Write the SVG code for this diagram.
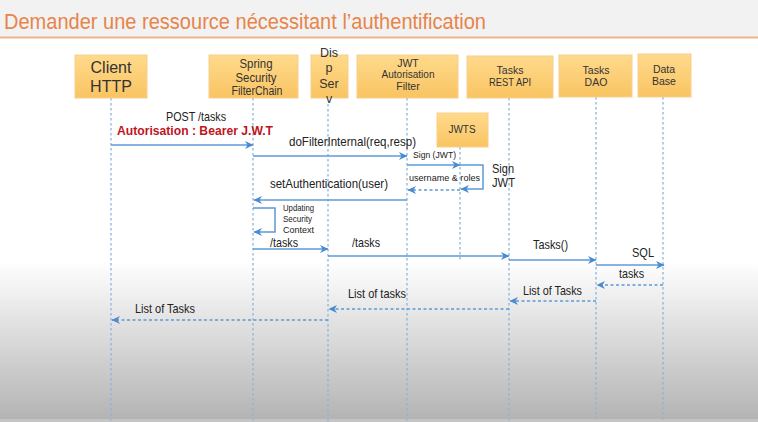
<svg xmlns="http://www.w3.org/2000/svg" width="758" height="422" viewBox="0 0 758 422">
<defs>
  <linearGradient id="bg" x1="0" y1="0" x2="0" y2="1">
    <stop offset="0" stop-color="#ffffff"/>
    <stop offset="0.62" stop-color="#ffffff"/>
    <stop offset="1" stop-color="#b2b2b2"/>
  </linearGradient>
  <linearGradient id="box" x1="0" y1="0" x2="0" y2="1">
    <stop offset="0" stop-color="#FFDA8C"/>
    <stop offset="1" stop-color="#F9C462"/>
  </linearGradient>
  <marker id="ah" markerUnits="userSpaceOnUse" markerWidth="10" markerHeight="10" refX="9" refY="5" orient="auto">
    <path d="M1,1 L9.5,5 L1,9 L3.5,5 z" fill="#4A8BD0"/>
  </marker>
</defs>
<style>
  .ttl{font-family:"Liberation Sans",Arial,sans-serif;font-size:22px;fill:#E8844A}
  .bx{fill:url(#box);stroke:#F6D08C;stroke-width:1}
  .nt{font-family:"Liberation Sans",Arial,sans-serif;fill:#333;text-anchor:middle}
  .life{stroke:#8DB3DC;stroke-width:1.3;stroke-dasharray:2.5 2.5;fill:none}
  .msg{stroke:#5B9BD5;stroke-width:1.5;fill:none;marker-end:url(#ah)}
  .ret{stroke:#5B9BD5;stroke-width:1.5;fill:none;stroke-dasharray:3 2.5;marker-end:url(#ah)}
  .lb{font-family:"Liberation Sans",Arial,sans-serif;font-size:13px;fill:#222}
  .sm{font-family:"Liberation Sans",Arial,sans-serif;font-size:9.5px;fill:#222}
  .red{font-family:"Liberation Sans",Arial,sans-serif;font-size:13px;font-weight:bold;fill:#C0141C}
</style>
<rect x="0" y="0" width="758" height="422" fill="url(#bg)"/>
<rect x="0" y="0" width="758" height="37" fill="#F2F2F2"/>
<rect x="0" y="419" width="758" height="3" fill="#C4C4C4"/>
<line x1="0" y1="37.5" x2="758" y2="37.5" stroke="#F2B48C" stroke-width="2"/>
<text class="ttl" x="4" y="29" textLength="482" lengthAdjust="spacingAndGlyphs">Demander une ressource nécessitant l’authentification</text>

<g id="lifelines">
  <line class="life" x1="111" y1="98" x2="111" y2="422"/>
  <line class="life" x1="253" y1="98" x2="253" y2="422"/>
  <line class="life" x1="328" y1="104" x2="328" y2="422"/>
  <line class="life" x1="407" y1="98" x2="407" y2="422"/>
  <line class="life" x1="509" y1="98" x2="509" y2="422"/>
  <line class="life" x1="596" y1="97" x2="596" y2="422"/>
  <line class="life" x1="663" y1="97" x2="663" y2="422"/>
  <line class="life" x1="460" y1="147" x2="460" y2="261"/>
</g>

<g id="client">
  <rect class="bx" x="75" y="55" width="72" height="43"/>
  <text class="nt" x="111" y="73" font-size="16">Client</text>
  <text class="nt" x="111" y="92" font-size="16">HTTP</text>
</g>
<g id="filterchain">
  <rect class="bx" x="209" y="55" width="89" height="43"/>
  <text class="nt" x="256" y="68" font-size="12" textLength="33" lengthAdjust="spacingAndGlyphs">Spring</text>
  <text class="nt" x="256" y="82" font-size="12" textLength="41" lengthAdjust="spacingAndGlyphs">Security</text>
  <text class="nt" x="257" y="95" font-size="12" textLength="51" lengthAdjust="spacingAndGlyphs">FilterChain</text>
</g>
<g id="dispatcher">
  <rect class="bx" x="311" y="55" width="37" height="43"/>
  <text class="nt" x="329" y="57" font-size="12.5">Dis</text>
  <text class="nt" x="329" y="72" font-size="12.5">p</text>
  <text class="nt" x="329" y="88" font-size="12.5">Ser</text>
  <text class="nt" x="329" y="103" font-size="12.5">v</text>
</g>
<g id="jwtfilter">
  <rect class="bx" x="357" y="55" width="101" height="43"/>
  <text class="nt" x="408" y="67" font-size="10.5">JWT</text>
  <text class="nt" x="408" y="78" font-size="10.5" textLength="53" lengthAdjust="spacingAndGlyphs">Autorisation</text>
  <text class="nt" x="408" y="90" font-size="10.5">Filter</text>
</g>
<g id="restapi">
  <rect class="bx" x="467" y="56" width="86" height="42"/>
  <text class="nt" x="510" y="74" font-size="10.5">Tasks</text>
  <text class="nt" x="510" y="86" font-size="10.5" textLength="42" lengthAdjust="spacingAndGlyphs">REST API</text>
</g>
<g id="dao">
  <rect class="bx" x="559" y="55" width="73" height="42"/>
  <text class="nt" x="596" y="74" font-size="10.5">Tasks</text>
  <text class="nt" x="596" y="86" font-size="10.5">DAO</text>
</g>
<g id="database">
  <rect class="bx" x="638" y="54" width="53" height="43"/>
  <text class="nt" x="664" y="73" font-size="10.5">Data</text>
  <text class="nt" x="664" y="85" font-size="10.5">Base</text>
</g>
<g id="jwts">
  <rect class="bx" x="437" y="113" width="51" height="34"/>
  <text class="nt" x="462" y="133" font-size="10">JWTS</text>
</g>

<g id="connectors">
  <line class="msg" x1="111" y1="145" x2="253" y2="145"/>
  <line class="msg" x1="253" y1="156" x2="407" y2="156"/>
  <line class="msg" x1="407" y1="165" x2="460" y2="165"/>
  <polyline class="msg" points="460,165 483,165 483,189 461,189"/>
  <line class="ret" x1="460" y1="190" x2="408" y2="190"/>
  <line class="msg" x1="407" y1="200" x2="254" y2="200"/>
  <polyline class="msg" points="253,208 275,208 275,232 254,232"/>
  <line class="msg" x1="253" y1="249" x2="328" y2="249"/>
  <line class="msg" x1="328" y1="256" x2="509" y2="256"/>
  <line class="msg" x1="509" y1="260" x2="596" y2="260"/>
  <line class="msg" x1="596" y1="265" x2="664" y2="265"/>
  <line class="ret" x1="663" y1="285" x2="597" y2="285"/>
  <line class="ret" x1="596" y1="301" x2="510" y2="301"/>
  <line class="ret" x1="509" y1="309" x2="329" y2="309"/>
  <line class="ret" x1="328" y1="320" x2="112" y2="320"/>
</g>

<g id="labels">
  <text class="lb" x="166" y="121" textLength="60" lengthAdjust="spacingAndGlyphs">POST /tasks</text>
  <text class="red" x="117" y="135" textLength="156" lengthAdjust="spacingAndGlyphs">Autorisation : Bearer J.W.T</text>
  <text class="lb" x="289" y="146" textLength="127" lengthAdjust="spacingAndGlyphs">doFilterInternal(req,resp)</text>
  <text class="sm" x="413" y="158" textLength="43" lengthAdjust="spacingAndGlyphs">Sign (JWT)</text>
  <text class="sm" x="409" y="181" textLength="71" lengthAdjust="spacingAndGlyphs">username &amp; roles</text>
  <text class="lb" x="492" y="173" textLength="22" lengthAdjust="spacingAndGlyphs">Sign</text>
  <text class="lb" x="492" y="187" textLength="23" lengthAdjust="spacingAndGlyphs">JWT</text>
  <text class="lb" x="270" y="188" textLength="118" lengthAdjust="spacingAndGlyphs">setAuthentication(user)</text>
  <text class="sm" x="283" y="211" textLength="31" lengthAdjust="spacingAndGlyphs">Updating</text>
  <text class="sm" x="283" y="222" textLength="29" lengthAdjust="spacingAndGlyphs">Security</text>
  <text class="sm" x="283" y="233" textLength="31" lengthAdjust="spacingAndGlyphs">Context</text>
  <text class="lb" x="270" y="247" textLength="28" lengthAdjust="spacingAndGlyphs">/tasks</text>
  <text class="lb" x="352" y="247" textLength="28" lengthAdjust="spacingAndGlyphs">/tasks</text>
  <text class="lb" x="533" y="249" textLength="35" lengthAdjust="spacingAndGlyphs">Tasks()</text>
  <text class="lb" x="632" y="257" textLength="22" lengthAdjust="spacingAndGlyphs">SQL</text>
  <text class="lb" x="619" y="278" textLength="25" lengthAdjust="spacingAndGlyphs">tasks</text>
  <text class="lb" x="523" y="295" textLength="59" lengthAdjust="spacingAndGlyphs">List of Tasks</text>
  <text class="lb" x="348" y="298" textLength="58" lengthAdjust="spacingAndGlyphs">List of tasks</text>
  <text class="lb" x="135" y="313" textLength="60" lengthAdjust="spacingAndGlyphs">List of Tasks</text>
</g>
</svg>
